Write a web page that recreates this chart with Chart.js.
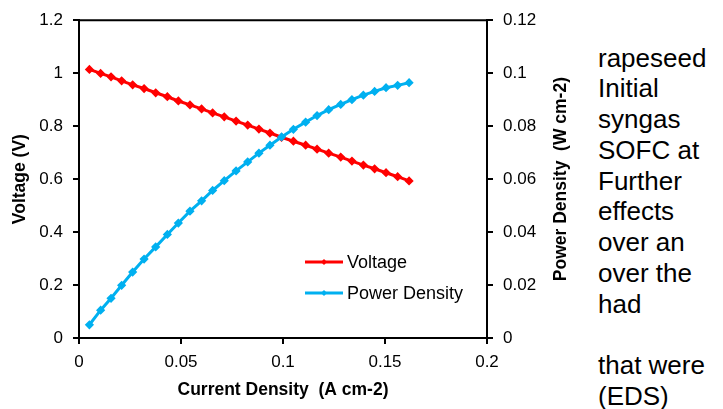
<!DOCTYPE html>
<html>
<head>
<meta charset="utf-8">
<script src="https://cdn.jsdelivr.net/npm/chart.js@4"></script>
<style>
  body { margin: 0; background: #fff; overflow: hidden; }
  #wrap { position: absolute; left: 0; top: 0; width: 580px; height: 409px; }
  #side {
    position: absolute; left: 598px; top: 42.6px;
    font-family: 'Liberation Sans', Arial, sans-serif;
    font-size: 26px; line-height: 30.75px; color: #000;
    white-space: nowrap;
  }
</style>
</head>
<body>
<div id="wrap"><canvas id="myChart"></canvas></div>
<div id="side">rapeseed<br>Initial<br>syngas<br>SOFC at<br>Further<br>effects<br>over an<br>over the<br>had<br>&nbsp;<br>that were<br>(EDS)</div>
<script>
  // current density (A cm-2)
  const current = [0.0051, 0.0106, 0.0157, 0.0209, 0.0263, 0.0319, 0.0376, 0.0433, 0.0487, 0.0544,
    0.0601, 0.0655, 0.0712, 0.0770, 0.0827, 0.0882, 0.0936, 0.0993, 0.1051, 0.1111,
    0.1167, 0.1224, 0.1283, 0.1338, 0.1394, 0.1449, 0.1505, 0.1562, 0.1618];
  // voltage (V)
  const voltage = [1.014, 0.999, 0.986, 0.971, 0.956, 0.942, 0.926, 0.911, 0.895, 0.880,
    0.865, 0.850, 0.835, 0.819, 0.804, 0.789, 0.774, 0.758, 0.743, 0.728,
    0.713, 0.698, 0.683, 0.668, 0.653, 0.639, 0.624, 0.609, 0.593];
  // power density (W cm-2)
  const power = [0.0050, 0.0105, 0.0150, 0.0199, 0.0249, 0.0298, 0.0344, 0.0391, 0.0434, 0.0479,
    0.0518, 0.0557, 0.0594, 0.0631, 0.0665, 0.0698, 0.0728, 0.0759, 0.0788, 0.0815,
    0.0840, 0.0862, 0.0882, 0.0900, 0.0917, 0.0931, 0.0945, 0.0954, 0.0964];

  const xTickLabels = ['0', '0.05', '0.1', '0.15', '0.2'];
  const yTickLabels = ['0', '0.2', '0.4', '0.6', '0.8', '1', '1.2'];
  const y1TickLabels = ['0', '0.02', '0.04', '0.06', '0.08', '0.1', '0.12'];
  const y1Title = 'Power Density  (W cm-2)';

  const red = '#ff0000';
  const blue = '#00b0f0';

  Chart.defaults.font.family = "'Liberation Sans', Arial, sans-serif";
  Chart.defaults.color = '#000';

  const tickFont = { size: 17 };
  const titleFont = { size: 17.5, weight: 'bold' };

  // legend inside the plot, top border of the plot box, right axis title (reads upward)
  const extras = {
    id: 'extras',
    afterDatasetsDraw(chart) {
      const c = chart.ctx;
      const a = chart.chartArea;
      c.save();
      c.strokeStyle = '#000';
      c.lineWidth = 2;
      c.beginPath();
      c.moveTo(a.left, a.top);
      c.lineTo(a.right, a.top);
      c.stroke();

      const rows = [262, 293];
      chart.data.datasets.forEach((ds, i) => {
        const y = rows[i];
        c.strokeStyle = ds.borderColor;
        c.lineWidth = 3;
        c.beginPath();
        c.moveTo(305, y);
        c.lineTo(343, y);
        c.stroke();
        c.fillStyle = ds.borderColor;
        c.beginPath();
        c.moveTo(324, y - 3);
        c.lineTo(327, y);
        c.lineTo(324, y + 3);
        c.lineTo(321, y);
        c.closePath();
        c.fill();
        c.fillStyle = '#000';
        c.font = "18px 'Liberation Sans', Arial, sans-serif";
        c.textBaseline = 'middle';
        c.textAlign = 'left';
        c.fillText(ds.label, 347, y + 1);
      });

      c.translate(561, (a.top + a.bottom) / 2);
      c.rotate(-Math.PI / 2);
      c.font = "bold 17.5px 'Liberation Sans', Arial, sans-serif";
      c.textAlign = 'center';
      c.textBaseline = 'middle';
      c.fillText(y1Title, 0, 0);
      c.restore();
    }
  };

  const axisGrid = { drawOnChartArea: false, color: '#000', lineWidth: 2, tickLength: 6 };
  const axisBorder = { display: true, color: '#000', width: 2 };

  new Chart(document.getElementById('myChart'), {
    type: 'line',
    data: {
      datasets: [{
        label: 'Voltage',
        data: current.map((x, i) => ({ x: x, y: voltage[i] })),
        yAxisID: 'y',
        borderColor: red,
        backgroundColor: red,
        borderWidth: 3,
        pointStyle: 'rectRot',
        pointRadius: 2.5,
        order: 2
      }, {
        label: 'Power Density',
        data: current.map((x, i) => ({ x: x, y: power[i] })),
        yAxisID: 'y1',
        borderColor: blue,
        backgroundColor: blue,
        borderWidth: 3,
        pointStyle: 'rectRot',
        pointRadius: 2.5,
        order: 1
      }]
    },
    options: {
      responsive: true,
      maintainAspectRatio: false,
      animation: false,
      layout: { padding: { top: 17, bottom: 0, left: 0, right: 0 } },
      plugins: { legend: { display: false }, tooltip: { enabled: false } },
      scales: {
        x: {
          type: 'linear', min: 0, max: 0.2,
          grid: axisGrid, border: axisBorder,
          ticks: { stepSize: 0.05, font: tickFont, padding: 8, maxRotation: 0,
            callback: (v, i) => xTickLabels[i] },
          title: { display: true, text: 'Current Density  (A cm-2)', font: titleFont,
            padding: { top: 0, bottom: 8 } },
          afterFit: (s) => { s.height = 71; }
        },
        y: {
          position: 'left', min: 0, max: 1.2,
          grid: axisGrid, border: axisBorder,
          ticks: { stepSize: 0.2, font: tickFont, padding: 10,
            callback: (v, i) => yTickLabels[i] },
          title: { display: true, text: 'Voltage (V)', font: titleFont,
            padding: { top: 10, bottom: 0 } },
          afterFit: (s) => { s.width = 79; }
        },
        y1: {
          position: 'right', min: 0, max: 0.12,
          grid: axisGrid, border: axisBorder,
          ticks: { stepSize: 0.02, font: tickFont, padding: 10,
            callback: (v, i) => y1TickLabels[i] },
          title: { display: false },
          afterFit: (s) => { s.width = 93; }
        }
      }
    },
    plugins: [extras]
  });
</script>
</body>
</html>
